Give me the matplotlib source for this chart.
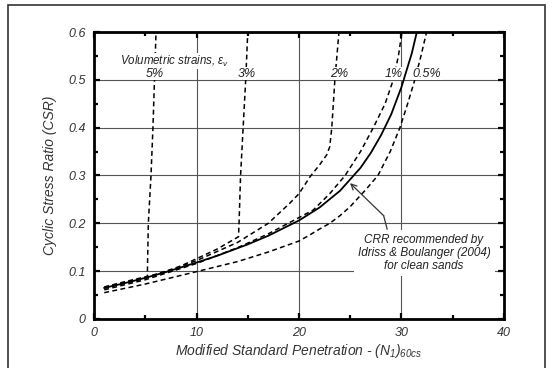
import matplotlib
matplotlib.use("Agg")
import matplotlib.pyplot as plt
from matplotlib.patches import Rectangle
from matplotlib.ticker import MultipleLocator

plt.rcParams['font.family'] = ['Liberation Sans', 'DejaVu Sans']
plt.rcParams['mathtext.fontset'] = 'custom'
plt.rcParams['mathtext.it'] = 'Liberation Sans:italic'
plt.rcParams['mathtext.rm'] = 'Liberation Sans:italic'

# CRR curve, Idriss & Boulanger (2004), clean sands
crr_n = [1, 3, 5, 7, 10, 12, 15, 17, 20, 22, 24, 26, 27, 28, 29, 30, 31, 31.5]
crr_csr = [0.065, 0.075, 0.086, 0.098, 0.118, 0.132, 0.156, 0.174, 0.206, 0.233,
           0.268, 0.316, 0.347, 0.384, 0.428, 0.485, 0.555, 0.600]

# volumetric strain curves
ev5_n = [1.0, 3.0, 5.2, 5.3, 5.56, 5.75, 5.9, 6.05]
ev5_csr = [0.067, 0.078, 0.089, 0.2, 0.3, 0.4, 0.5, 0.6]

ev3_n = [1.0, 5.0, 8.0, 10.0, 12.0, 14.1, 14.15, 14.3, 14.55, 14.8, 15.0]
ev3_csr = [0.066, 0.087, 0.106, 0.126, 0.146, 0.172, 0.2, 0.3, 0.4, 0.5, 0.6]

ev2_n = [1.0, 5.0, 10.0, 14.0, 17.0, 19.1, 20.0, 21.1, 22.0, 22.7, 23.0, 23.2, 23.5, 23.9]
ev2_csr = [0.064, 0.085, 0.122, 0.160, 0.200, 0.242, 0.262, 0.298, 0.322, 0.343, 0.36,
           0.40, 0.50, 0.60]

ev1_n = [1.0, 5.0, 10.0, 14.0, 17.0, 20.0, 21.4, 23.0, 24.5, 26.0, 27.25, 28.4, 29.2, 29.7, 30.05]
ev1_csr = [0.061, 0.082, 0.116, 0.149, 0.178, 0.212, 0.228, 0.262, 0.30, 0.35, 0.40,
           0.45, 0.50, 0.55, 0.60]

ev05_n = [1.0, 5.0, 10.0, 14.0, 17.0, 20.0, 21.0, 22.0, 23.0, 24.0, 25.0, 26.5, 27.7,
          28.9, 29.85, 30.6, 31.3, 31.9, 32.45]
ev05_csr = [0.055, 0.073, 0.099, 0.120, 0.140, 0.163, 0.175, 0.188, 0.200, 0.216, 0.235,
            0.27, 0.30, 0.35, 0.40, 0.45, 0.50, 0.55, 0.60]

strain_labels = ['5%', '3%', '2%', '1%', '0.5%']
label_n = [5.95, 14.93, 23.9, 29.2, 32.5]

fig = plt.figure(figsize=(5.54, 3.68), dpi=100)
ax = fig.add_axes([0.1697, 0.1332, 0.7400, 0.7798])

# frame around the figure
fig.patches.append(Rectangle((8 / 554, -0.05), 537 / 554, 1.05 - 5 / 368,
                             transform=fig.transFigure, fill=False,
                             edgecolor='#333333', linewidth=1.2))

dash = (0, (3.2, 2.2))
for xs, ys in [(ev5_n, ev5_csr), (ev3_n, ev3_csr), (ev2_n, ev2_csr),
               (ev1_n, ev1_csr), (ev05_n, ev05_csr)]:
    ax.plot(xs, ys, color='black', linestyle=dash, linewidth=1.1)
ax.plot(crr_n, crr_csr, color='black', linewidth=1.3)

ax.set_xlim(0, 40)
ax.set_ylim(0, 0.6)
ax.xaxis.set_major_locator(MultipleLocator(10))
ax.xaxis.set_minor_locator(MultipleLocator(5))
ax.yaxis.set_major_locator(MultipleLocator(0.1))
ax.yaxis.set_minor_locator(MultipleLocator(0.05))
ax.set_xticks([0, 10, 20, 30, 40])
ax.set_xticklabels(['0', '10', '20', '30', '40'])
ax.set_yticks([0, 0.1, 0.2, 0.3, 0.4, 0.5, 0.6])
ax.set_yticklabels(['0', '0.1', '0.2', '0.3', '0.4', '0.5', '0.6'])
ax.grid(True, which='major', color='#555555', linewidth=0.8)
ax.set_axisbelow(True)

ax.tick_params(which='both', direction='in', top=True, right=True, width=1.6,
               labelsize=9, labelcolor='#333333', pad=6)
ax.tick_params(which='major', length=4.5)
ax.tick_params(which='minor', length=3)
for lab in ax.get_xticklabels() + ax.get_yticklabels():
    lab.set_fontstyle('italic')
for sp in ax.spines.values():
    sp.set_linewidth(2)

ax.set_xlabel(r'Modified Standard Penetration - $(N_1)_{60cs}$', fontsize=10,
              style='italic', color='#333333', labelpad=2)
ax.set_ylabel('Cyclic Stress Ratio (CSR)', fontsize=10, style='italic',
              color='#333333', labelpad=8)

ax.text(7.9, 0.539, r'Volumetric strains, $\varepsilon_v$', fontsize=8.3, style='italic',
        ha='center', va='center', color='#222222',
        bbox=dict(facecolor='white', edgecolor='none', pad=0.5))
for lab, xn in zip(strain_labels, label_n):
    ax.text(xn, 0.513, lab, fontsize=9, style='italic', ha='center', va='center',
            color='#222222', bbox=dict(facecolor='white', edgecolor='none', pad=0.2))

ax.text(32.2, 0.138, 'CRR recommended by\nIdriss & Boulanger (2004)\nfor clean sands',
        fontsize=8.5, style='italic', ha='center', va='center', color='#222222',
        linespacing=1.1, bbox=dict(facecolor='white', edgecolor='none', pad=3))
ax.plot([28.6, 28.26], [0.188, 0.216], color='#333333', linewidth=0.9)
ax.annotate('', xy=(24.98, 0.284), xytext=(28.26, 0.216),
            arrowprops=dict(arrowstyle='->', color='#333333', linewidth=0.9,
                            shrinkA=0, shrinkB=0))

fig.savefig('out.png', dpi=100)
